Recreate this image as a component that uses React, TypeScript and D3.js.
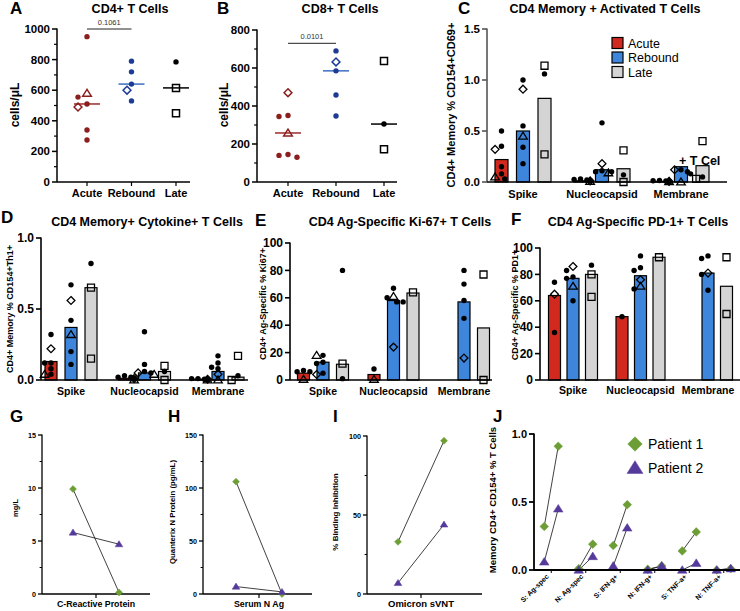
import * as d3 from "d3";

// categories
const cohorts = ["Acute", "Rebound", "Late"];
const antigens = ["Spike", "Nucleocapsid", "Membrane"];
const timepoints = ["Acute", "Rebound"];
const patients = ["Patient 1", "Patient 2"];
const cytokineCats = ["S: Ag-spec", "N: Ag-spec", "S: IFN-g+", "N: IFN-g+", "S: TNF-a+", "N: TNF-a+"];

// A: CD4+ counts  [cohort, cells/uL, marker]
const cd4Counts: [string, number, string][] = [
  ["Acute", 950, "o"], ["Acute", 580, "t"], ["Acute", 555, "o"], ["Acute", 510, "o"], ["Acute", 490, "d"], ["Acute", 340, "o"], ["Acute", 275, "o"],
  ["Rebound", 790, "o"], ["Rebound", 720, "o"], ["Rebound", 640, "o"], ["Rebound", 600, "d"], ["Rebound", 530, "o"],
  ["Late", 785, "o"], ["Late", 615, "s"], ["Late", 450, "s"],
];
// B: CD8+ counts
const cd8Counts: [string, number, string][] = [
  ["Acute", 470, "d"], ["Acute", 350, "o"], ["Acute", 345, "o"], ["Acute", 258, "t"], ["Acute", 145, "o"], ["Acute", 140, "o"], ["Acute", 130, "o"],
  ["Rebound", 690, "o"], ["Rebound", 632, "d"], ["Rebound", 585, "o"], ["Rebound", 458, "o"], ["Rebound", 347, "o"],
  ["Late", 637, "s"], ["Late", 305, "o"], ["Late", 172, "s"],
];
const pValues = ["0.1061", "0.0101"];

// C: bars [antigen][cohort] and points
const activatedBars = [[0.22, 0.5, 0.82], [0.012, 0.12, 0.13], [0.006, 0.15, 0.16]];
const activatedPoints: [string, string, [number, string][]][] = [
  ["Spike", "Acute", [[0.5, "o"], [0.35, "o"], [0.32, "d"], [0.15, "o"], [0.08, "o"], [0.05, "t"], [0.03, "o"]]],
  ["Spike", "Rebound", [[1.0, "o"], [0.91, "d"], [0.55, "o"], [0.45, "t"], [0.34, "o"], [0.18, "o"]]],
  ["Spike", "Late", [[1.14, "s"], [1.06, "o"], [0.27, "s"]]],
  ["Nucleocapsid", "Acute", [[0.03, "o"], [0.025, "o"], [0.02, "o"], [0.015, "o"], [0.01, "d"], [0.01, "o"], [0.005, "t"]]],
  ["Nucleocapsid", "Rebound", [[0.58, "o"], [0.18, "d"], [0.11, "o"], [0.1, "o"], [0.09, "t"], [0.1, "o"]]],
  ["Nucleocapsid", "Late", [[0.31, "s"], [0.07, "o"], [0.0, "s"]]],
  ["Membrane", "Acute", [[0.015, "o"], [0.012, "o"], [0.01, "o"], [0.008, "o"], [0.006, "d"], [0.005, "o"], [0.003, "t"]]],
  ["Membrane", "Rebound", [[0.12, "o"], [0.12, "d"], [0.1, "o"], [0.08, "o"], [0.0, "t"]]],
  ["Membrane", "Late", [[0.4, "s"], [0.05, "o"], [0.03, "s"]]],
];

// D
const cytokineBars = [[0.13, 0.37, 0.65], [0.012, 0.05, 0.06], [0.006, 0.06, 0.02]];
const cytokinePoints: [string, string, [number, string][]][] = [
  ["Spike", "Acute", [[0.32, "o"], [0.22, "d"], [0.12, "o"], [0.12, "o"], [0.08, "o"], [0.04, "o"], [0.04, "t"]]],
  ["Spike", "Rebound", [[0.67, "o"], [0.56, "d"], [0.42, "o"], [0.32, "t"], [0.2, "o"], [0.11, "o"]]],
  ["Spike", "Late", [[0.82, "o"], [0.65, "s"], [0.15, "s"]]],
  ["Nucleocapsid", "Acute", [[0.03, "o"], [0.02, "o"], [0.02, "o"], [0.01, "o"], [0.01, "d"], [0.01, "o"], [0.0, "t"]]],
  ["Nucleocapsid", "Rebound", [[0.34, "o"], [0.11, "o"], [0.06, "o"], [0.05, "d"], [0.05, "o"], [0.04, "t"]]],
  ["Nucleocapsid", "Late", [[0.1, "s"], [0.06, "o"], [0.0, "s"]]],
  ["Membrane", "Acute", [[0.01, "o"], [0.01, "o"], [0.005, "o"], [0.005, "d"], [0.0, "o"], [0.0, "t"], [0.0, "o"]]],
  ["Membrane", "Rebound", [[0.17, "o"], [0.12, "o"], [0.09, "o"], [0.08, "o"], [0.04, "d"], [0.0, "t"]]],
  ["Membrane", "Late", [[0.17, "s"], [0.03, "o"], [0.0, "s"]]],
];

// E
const ki67Bars = [[5, 13, 11.5], [4, 58, 63.5], [null, 57, 38]];
const ki67Points: [string, string, [number, string][]][] = [
  ["Spike", "Acute", [[7, "o"], [6, "o"], [6, "o"], [0.5, "t"]]],
  ["Spike", "Rebound", [[18, "o"], [18, "t"], [13, "o"], [12, "o"], [5, "o"], [4, "d"]]],
  ["Spike", "Late", [[80, "o"], [12, "s"], [1, "o"]]],
  ["Nucleocapsid", "Acute", [[8, "o"], [0.5, "t"]]],
  ["Nucleocapsid", "Rebound", [[67, "o"], [61, "t"], [60, "o"], [57, "o"], [57, "o"], [24, "d"]]],
  ["Nucleocapsid", "Late", [[64, "s"]]],
  ["Membrane", "Rebound", [[80, "o"], [70, "o"], [58, "o"], [45, "o"], [16, "d"]]],
  ["Membrane", "Late", [[77, "s"], [0, "s"]]],
];

// F
const pd1Bars = [[64, 77, 80], [48, 79, 93], [null, 81, 71]];
const pd1Points: [string, string, [number, string][]][] = [
  ["Spike", "Acute", [[74, "o"], [65, "d"], [36, "o"]]],
  ["Spike", "Rebound", [[86, "d"], [83, "o"], [78, "o"], [77, "o"], [71, "t"], [60, "o"]]],
  ["Spike", "Late", [[87, "o"], [80, "s"], [63, "s"]]],
  ["Nucleocapsid", "Acute", [[48, "o"]]],
  ["Nucleocapsid", "Rebound", [[94, "o"], [85, "o"], [83, "o"], [76, "d"], [71, "t"], [69, "o"]]],
  ["Nucleocapsid", "Late", [[93, "s"]]],
  ["Membrane", "Rebound", [[94, "o"], [92, "o"], [81, "d"], [80, "o"], [68, "o"]]],
  ["Membrane", "Late", [[93, "s"], [50, "s"]]],
];

// G, H, I: [patient][timepoint]
const crpValues = [[9.9, 0.15], [5.8, 4.7]];
const serumNValues = [[106, 0], [7, 2]];
const svntValues = [[33, 97], [7, 44]];

// J: [category][timepoint]
const patient1Cytokine = [[0.32, 0.91], [0.01, 0.19], [0.18, 0.48], [0.005, 0.03], [0.14, 0.28], [0.0, 0.01]];
const patient2Cytokine = [[0.06, 0.45], [0.0, 0.1], [0.03, 0.31], [0.0, 0.03], [0.0, 0.05], [0.0, 0.01]];

const FONT = "Liberation Sans, Arial, sans-serif";
const barColors: any = { Acute: "#d2291e", Rebound: "#3d86dc", Late: "#d4d4d4" };
const dotColors: any = { Acute: "#8b1e1e", Rebound: "#1d3b94", Late: "#000" };
const medColors: any = { Acute: "#9e2b2b", Rebound: "#3c6fc2", Late: "#000" };
const patientColors = ["#6c9e35", "#553a9c"];
const patientMarks = ["d", "t"];

const markerPath = (m: string, x: number, y: number, r: number) => {
  if (m === "d") {
    const h = r * 1.45;
    return `M${x},${y - h}L${x + h},${y}L${x},${y + h}L${x - h},${y}Z`;
  }
  if (m === "t") {
    const h = r * 1.45;
    return `M${x},${y - h}L${x + h * 1.1},${y + h * 0.75}L${x - h * 1.1},${y + h * 0.75}Z`;
  }
  const h = r * 1.3;
  return `M${x - h},${y - h}H${x + h}V${y + h}H${x - h}Z`;
};

function Marker({ m, x, y, r, color, fill = "none", sw = 1.4 }: any) {
  if (m === "o") return <circle cx={x} cy={y} r={r} fill={color} />;
  return <path d={markerPath(m, x, y, r)} fill={fill} stroke={color} strokeWidth={sw} />;
}

// spread points sideways when they overlap
function dodge(ys: number[], sep: number, step: number) {
  const placed: { x: number; y: number }[] = [];
  const cands = [0, -step, step, -2 * step, 2 * step, -3 * step, 3 * step];
  return ys.map((y) => {
    let best = cands[cands.length - 1];
    for (const c of cands) {
      if (placed.every((p) => Math.hypot(p.x - c, p.y - y) >= sep)) {
        best = c;
        break;
      }
    }
    placed.push({ x: best, y });
    return best;
  });
}

function YAxis({ y, x, ticks, minor = [], fmt, font = 11, len = 5, stroke = "#000", width = 1.5 }: any) {
  const [r0, r1] = y.range();
  return (
    <g>
      <line x1={x} x2={x} y1={r0} y2={r1 - 0.5} stroke={stroke} strokeWidth={width} />
      {ticks.map((t: number) => (
        <g key={t}>
          <line x1={x - len} x2={x} y1={y(t)} y2={y(t)} stroke={stroke} strokeWidth={width} />
          <text x={x - len - 2} y={y(t)} dy="0.35em" textAnchor="end" fontSize={font} fontWeight="bold">
            {fmt(t)}
          </text>
        </g>
      ))}
      {minor.map((t: number) => (
        <line key={"m" + t} x1={x - len * 0.6} x2={x} y1={y(t)} y2={y(t)} stroke={stroke} strokeWidth={width * 0.8} />
      ))}
    </g>
  );
}

function YLabel({ x, y, text, font }: any) {
  return (
    <text transform={`translate(${x},${y}) rotate(-90)`} textAnchor="middle" dy="0.35em" fontSize={font} fontWeight="bold">
      {text}
    </text>
  );
}

function Heading({ letter, lx, ly, title, tx, ty }: any) {
  return (
    <g>
      <text x={lx} y={ly} fontSize={17} fontWeight="bold">{letter}</text>
      {title && (
        <text x={tx} y={ty} textAnchor="middle" fontSize={12.5} fontWeight="bold">{title}</text>
      )}
    </g>
  );
}

function ScatterPanel({ data, cfg }: any) {
  const y = d3.scaleLinear().domain(cfg.dom).range(cfg.yr);
  const x = d3.scalePoint<string>().domain(cohorts).range(cfg.xr);
  const base = cfg.yr[0];
  return (
    <g>
      <Heading {...cfg} />
      <YAxis y={y} x={cfg.ax} ticks={cfg.ticks} minor={cfg.minor} fmt={d3.format("d")} font={11.5} />
      <line x1={cfg.ax} x2={cfg.axEnd} y1={base} y2={base} stroke="#000" strokeWidth={1.5} />
      <YLabel x={cfg.ylx} y={105} text="cells/μL" font={12} />
      {cohorts.map((c) => {
        const rows = data.filter((d: any) => d[0] === c);
        const offs = dodge(rows.map((r: any) => y(r[1])), 6.5, 4.5);
        const med = d3.median(rows, (r: any) => r[1]) as number;
        const cx = x(c) as number;
        return (
          <g key={c}>
            <line x1={cx} x2={cx} y1={base} y2={base + 4} stroke="#000" strokeWidth={1.2} />
            <text x={cx} y={197} textAnchor="middle" fontSize={11} fontWeight="bold">{c}</text>
            <line x1={cx - 13} x2={cx + 13} y1={y(med)} y2={y(med)} stroke={medColors[c]} strokeWidth={1.5} />
            {rows.map((r: any, i: number) => (
              <Marker key={i} m={r[2]} x={cx + offs[i]} y={y(r[1])} r={2.7} color={dotColors[c]} sw={1.5} />
            ))}
          </g>
        );
      })}
      <line x1={x("Acute")} x2={x("Rebound")} y1={y(cfg.brV)} y2={y(cfg.brV)} stroke="#222" strokeWidth={1} />
      <text x={((x("Acute") as number) + (x("Rebound") as number)) / 2} y={y(cfg.brV) - 4} textAnchor="middle" fontSize={7.5} fill="#333">
        {cfg.p}
      </text>
    </g>
  );
}

function BarPanel({ cfg, bars, points }: any) {
  const y = d3.scaleLinear().domain(cfg.dom).range(cfg.yr);
  const g = d3.scalePoint<string>().domain(antigens).range([cfg.g0, cfg.g1]);
  const inner = d3.scalePoint<string>().domain(cohorts).range([-cfg.inner, cfg.inner]);
  const base = cfg.yr[0];
  return (
    <g>
      <Heading {...cfg} />
      {antigens.map((a, i) =>
        cohorts.map((c, j) => {
          const v = bars[i][j];
          if (v == null) return null;
          const cx = (g(a) as number) + (inner(c) as number);
          return (
            <rect key={a + c} x={cx - cfg.bw / 2} y={y(v)} width={cfg.bw} height={base - y(v)} fill={barColors[c]} stroke="#000" strokeWidth={1.2} />
          );
        })
      )}
      {points.map(([a, c, list]: any) => {
        const cx = (g(a) as number) + (inner(c) as number);
        const offs = dodge(list.map((p: any) => y(p[0])), 5.5, 3.2);
        return list.map((p: any, i: number) => (
          <Marker key={a + c + i} m={p[1]} x={cx + offs[i]} y={y(p[0])} r={2.7} color="#000" sw={1.3} />
        ));
      })}
      <YAxis y={y} x={cfg.ax} ticks={cfg.ticks} fmt={d3.format(cfg.fmt)} font={cfg.tickFont} stroke={cfg.axColor || "#000"} width={1.6} />
      <line x1={cfg.ax} x2={cfg.axEnd} y1={base} y2={base} stroke="#000" strokeWidth={1.5} />
      {antigens.map((a) => (
        <text key={a} x={g(a)} y={cfg.grpY} textAnchor="middle" fontSize={cfg.grpFont} fontWeight="bold">{a}</text>
      ))}
      <YLabel x={cfg.ylx} y={cfg.yly} text={cfg.ylabel} font={cfg.ylFont} />
    </g>
  );
}

function PairPanel({ cfg, values }: any) {
  const y = d3.scaleLinear().domain(cfg.dom).range(cfg.yr);
  const x = d3.scalePoint<string>().domain(timepoints).range(cfg.xr);
  const base = cfg.yr[0];
  const line = d3.line();
  return (
    <g>
      <Heading letter={cfg.letter} lx={cfg.lx} ly={422} />
      <YAxis y={y} x={cfg.ax} ticks={cfg.ticks} minor={cfg.minor} fmt={d3.format("d")} font={7.2} len={4} width={1.3} />
      <line x1={cfg.ax} x2={cfg.axEnd} y1={base} y2={base} stroke="#000" strokeWidth={1.3} />
      <line x1={cfg.mid} x2={cfg.mid} y1={base} y2={base + 4} stroke="#000" strokeWidth={1.2} />
      <text x={cfg.mid} y={607} textAnchor="middle" fontSize={cfg.xFont} fontWeight="bold">{cfg.xlabel}</text>
      <YLabel x={cfg.ylx} y={cfg.yly} text={cfg.ylabel} font={cfg.ylFont} />
      {patients.map((p, i) => (
        <path key={p} d={line(timepoints.map((t, k) => [x(t) as number, y(values[i][k])])) as string} fill="none" stroke="#111" strokeWidth={0.8} />
      ))}
      {patients.map((p, i) =>
        timepoints.map((t, k) => (
          <Marker key={p + t} m={patientMarks[i]} x={x(t)} y={y(values[i][k])} r={2.4} color={patientColors[i]} fill={patientColors[i]} sw={0.5} />
        ))
      )}
    </g>
  );
}

function CytokinePanel() {
  const y = d3.scaleLinear().domain([0, 1]).range([570, 434]);
  const x = d3.scaleBand<string>().domain(cytokineCats).range([534, 741]);
  const pair = d3.scalePoint<string>().domain(timepoints).range([-7, 7]);
  const series = [patient1Cytokine, patient2Cytokine];
  const line = d3.line();
  const cx = (c: string) => (x(c) as number) + x.bandwidth() / 2;
  return (
    <g>
      <Heading letter="J" lx={493} ly={422} />
      <YAxis y={y} x={534} ticks={[0, 0.5, 1]} fmt={d3.format(".1f")} font={11} len={5} width={1.8} />
      <YLabel x={493} y={500} text="Memory CD4+ CD154+ % T Cells" font={9.5} />
      {series.map((s, i) =>
        cytokineCats.map((c, j) => (
          <path key={i + c} d={line(timepoints.map((t, k) => [cx(c) + (pair(t) as number), y(s[j][k])])) as string} fill="none" stroke="#111" strokeWidth={0.8} />
        ))
      )}
      {series.map((s, i) =>
        cytokineCats.map((c, j) =>
          timepoints.map((t, k) => (
            <Marker key={i + c + t} m={patientMarks[i]} x={cx(c) + (pair(t) as number)} y={y(s[j][k])} r={3} color={patientColors[i]} fill={patientColors[i]} sw={0.5} />
          ))
        )
      )}
      <line x1={534} x2={741} y1={570} y2={570} stroke="#000" strokeWidth={1.8} />
      {cytokineCats.map((c) => (
        <g key={c}>
          <line x1={cx(c)} x2={cx(c)} y1={570} y2={573} stroke="#000" strokeWidth={1} />
          <text transform={`translate(${cx(c) - 2},${577}) rotate(-45)`} textAnchor="end" fontSize={7} fontWeight="bold">{c}</text>
        </g>
      ))}
      {patients.map((p, i) => (
        <g key={p}>
          <Marker m={patientMarks[i]} x={635} y={444 + i * 24} r={5} color={patientColors[i]} fill={patientColors[i]} sw={0.5} />
          <text x={648} y={449 + i * 24} fontSize={14}>{p}</text>
        </g>
      ))}
    </g>
  );
}

const cfgA = { letter: "A", lx: 10, ly: 14, title: "CD4+ T Cells", tx: 130, ty: 12.5, dom: [0, 1000], yr: [182, 29], xr: [87, 176], ax: 57, axEnd: 190, ticks: [0, 200, 400, 600, 800, 1000], minor: [100, 300, 500, 700, 900], ylx: 15, brV: 1000, p: pValues[0] };
const cfgB = { letter: "B", lx: 217, ly: 14, title: "CD8+ T Cells", tx: 340, ty: 12.5, dom: [0, 800], yr: [182, 30], xr: [288, 384], ax: 257, axEnd: 397, ticks: [0, 200, 400, 600, 800], minor: [100, 300, 500, 700], ylx: 224, brV: 730, p: pValues[1] };

const cfgC = { letter: "C", lx: 458, ly: 14, title: "CD4 Memory + Activated T Cells", tx: 605, ty: 12.5, ax: 487, axEnd: 727, yr: [182, 29], dom: [0, 1.5], ticks: [0, 0.5, 1, 1.5], fmt: ".1f", g0: 523, g1: 681, inner: 21.5, bw: 13, tickFont: 11.5, grpFont: 11, grpY: 198, ylabel: "CD4+ Memory % CD154+CD69+", ylx: 451, yly: 105, ylFont: 11, axColor: "#555" };
const cfgD = { letter: "D", lx: 1, ly: 223, title: "CD4 Memory+ Cytokine+ T Cells", tx: 147, ty: 226, ax: 41, axEnd: 248, yr: [380, 238], dom: [0, 1], ticks: [0, 0.5, 1], fmt: ".1f", g0: 71, g1: 218, inner: 20, bw: 12, tickFont: 12, grpFont: 10.5, grpY: 395, ylabel: "CD4+ Memory % CD154+Th1+", ylx: 10, yly: 309, ylFont: 9 };
const cfgE = { letter: "E", lx: 255, ly: 226, title: "CD4 Ag-Specific Ki-67+ T Cells", tx: 400, ty: 226, ax: 290, axEnd: 492, yr: [380, 243], dom: [0, 100], ticks: [0, 20, 40, 60, 80, 100], fmt: "d", g0: 323, g1: 464, inner: 19.5, bw: 12, tickFont: 12, grpFont: 10.5, grpY: 395, ylabel: "CD4+ Ag-Specific % Ki67+", ylx: 263, yly: 304, ylFont: 9 };
const cfgF = { letter: "F", lx: 511, ly: 225, title: "CD4 Ag-Specific PD-1+ T Cells", tx: 638, ty: 226, ax: 540, axEnd: 740, yr: [380, 248], dom: [0, 100], ticks: [0, 20, 40, 60, 80, 100], fmt: "d", g0: 573, g1: 708, inner: 18.5, bw: 12, tickFont: 12, grpFont: 10.5, grpY: 394, ylabel: "CD4+ Ag-Specific % PD1+", ylx: 515, yly: 305, ylFont: 9 };

const cfgG = { letter: "G", lx: 10, dom: [0, 15], yr: [594, 435], xr: [73, 119], ax: 42, axEnd: 150, mid: 96, ticks: [0, 5, 10, 15], minor: [2.5, 7.5, 12.5], xlabel: "C-Reactive Protein", xFont: 8.8, ylabel: "mg/L", ylx: 15, yly: 508, ylFont: 7.5 };
const cfgH = { letter: "H", lx: 168, dom: [0, 150], yr: [594, 435], xr: [236, 282], ax: 203, axEnd: 312, mid: 259, ticks: [0, 50, 100, 150], minor: [25, 75, 125], xlabel: "Serum N Ag", xFont: 8.8, ylabel: "Quanterix N Protein (pg/mL)", ylx: 172, yly: 512, ylFont: 7.8 };
const cfgI = { letter: "I", lx: 333, dom: [0, 100], yr: [594, 436], xr: [398, 444], ax: 367, axEnd: 482, mid: 421, ticks: [0, 50, 100], minor: [25, 75], xlabel: "Omicron sVNT", xFont: 9.5, ylabel: "% Binding Inhibition", ylx: 335, yly: 512, ylFont: 8 };

export default function App() {
  return (
    <div style={{ position: "absolute", left: 0, top: 0 }}>
      <svg width={740} height={611} style={{ display: "block", background: "#fff" }} fontFamily={FONT}>
        <ScatterPanel data={cd4Counts} cfg={cfgA} />
        <ScatterPanel data={cd8Counts} cfg={cfgB} />
        <BarPanel cfg={cfgC} bars={activatedBars} points={activatedPoints} />
        {/* legend for C */}
        {cohorts.map((c, i) => (
          <g key={c}>
            <rect x={612} y={37.5 + i * 14.5} width={11} height={11} fill={barColors[c]} stroke="#000" strokeWidth={1.2} />
            <text x={628} y={47.5 + i * 14.5} fontSize={12.5}>{c}</text>
          </g>
        ))}
        {/* clipped title fragment visible in the source */}
        <text x={679} y={165} fontSize={12.5} fontWeight="bold">+ T Cel</text>
        <BarPanel cfg={cfgD} bars={cytokineBars} points={cytokinePoints} />
        <BarPanel cfg={cfgE} bars={ki67Bars} points={ki67Points} />
        <BarPanel cfg={cfgF} bars={pd1Bars} points={pd1Points} />
        <PairPanel cfg={cfgG} values={crpValues} />
        <PairPanel cfg={cfgH} values={serumNValues} />
        <PairPanel cfg={cfgI} values={svntValues} />
        <CytokinePanel />
      </svg>
    </div>
  );
}
